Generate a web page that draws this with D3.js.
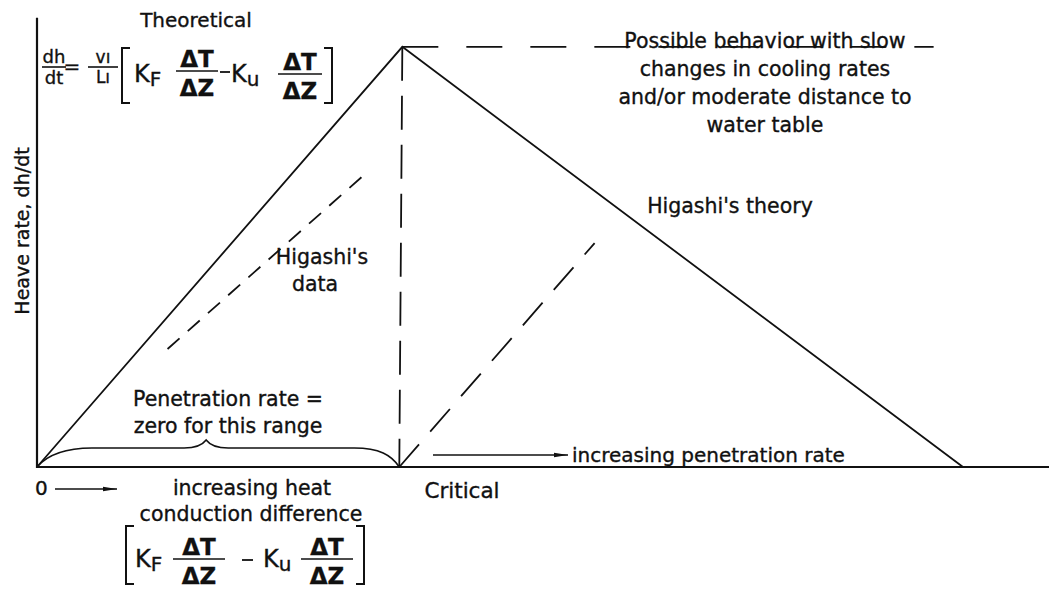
<!DOCTYPE html>
<html>
<head>
<meta charset="utf-8">
<script src="https://cdn.jsdelivr.net/npm/d3@7"></script>
<style>
  body { margin: 0; background: #fff; }
  svg text { font-family: "DejaVu Sans", sans-serif; fill: #111; stroke: #111; stroke-width: 0.35px; }
</style>
</head>
<body>
<div id="container"></div>
<script>
/** CONSTANTS AND GLOBALS */
const width = 1049,
  height = 590,
  margin = { top: 20, bottom: 123, left: 37, right: 0 };

// schematic data, in percent of the axis range
const theoryX = [0, 36.1, 91.5];        // theoretical rise, peak, Higashi's theory fall
const theoryY = [0, 94, 0];
const criticalX = [36.1, 35.8];         // vertical dashed line at critical difference
const criticalY = [94, 0];
const slowX = [36.1, 88.6];             // possible behaviour, slow changes
const slowY = [94, 94];
const higashiDataX = [12.9, 32.1];
const higashiDataY = [26.4, 64.9];
const penetrationX = [35.8, 55.1];
const penetrationY = [0, 50.1];
const braceX = [0, 35.8];

const slowLabel = ["Possible behavior with slow", "changes in cooling rates",
  "and/or moderate distance to", "water table"];

let svg;

/** INITIALIZING FUNCTION */
function init() {
  svg = d3.select("#container")
    .append("svg")
    .attr("width", width)
    .attr("height", height);

  const x = d3.scaleLinear().domain([0, 100]).range([margin.left, width - margin.right]);
  const y = d3.scaleLinear().domain([0, 100]).range([height - margin.bottom, margin.top]);

  const line = d3.line().x(d => x(d[0])).y(d => y(d[1]));
  const pairs = (xs, ys) => xs.map((v, i) => [v, ys[i]]);

  svg.append("defs").append("marker")
    .attr("id", "arrow")
    .attr("viewBox", "0 0 14 6")
    .attr("refX", 14).attr("refY", 3)
    .attr("markerWidth", 14).attr("markerHeight", 6)
    .attr("markerUnits", "userSpaceOnUse")
    .attr("orient", "auto")
    .append("path")
    .attr("d", "M0,0.8 L14,3 L0,5.2 Z")
    .attr("fill", "#111");

  // axes
  svg.append("path")
    .attr("d", line([[0, 100.5], [0, 0], [100, 0]]))
    .attr("fill", "none")
    .attr("stroke", "#111")
    .attr("stroke-width", 2.2);

  // theoretical curve
  svg.append("path")
    .attr("d", line(pairs(theoryX, theoryY)))
    .attr("fill", "none")
    .attr("stroke", "#111")
    .attr("stroke-width", 1.8);

  // dashed lines
  const dashed = [
    { pts: pairs(criticalX, criticalY), dash: "34,15" },
    { pts: pairs(slowX, slowY), dash: "36,28" },
    { pts: pairs(higashiDataX, higashiDataY), dash: "16,11" },
    { pts: pairs(penetrationX, penetrationY), dash: "30,17" }
  ];
  svg.selectAll("path.dash")
    .data(dashed)
    .join("path")
    .attr("class", "dash")
    .attr("d", d => line(d.pts))
    .attr("fill", "none")
    .attr("stroke", "#111")
    .attr("stroke-width", 1.8)
    .attr("stroke-dasharray", d => d.dash);

  // brace under "zero for this range"
  const bx0 = x(braceX[0]), bx1 = x(braceX[1]), by = y(0), mid = (bx0 + bx1) / 2 - 12;
  const bp = d3.path();
  bp.moveTo(bx0, by);
  bp.bezierCurveTo(bx0 + 12, by - 14, bx0 + 30, by - 19, bx0 + 55, by - 19);
  bp.lineTo(mid - 22, by - 19);
  bp.bezierCurveTo(mid - 8, by - 19, mid - 3, by - 23, mid, by - 27);
  bp.bezierCurveTo(mid + 3, by - 23, mid + 8, by - 19, mid + 22, by - 19);
  bp.lineTo(bx1 - 45, by - 19);
  bp.bezierCurveTo(bx1 - 20, by - 19, bx1 - 8, by - 12, bx1, by);
  svg.append("path")
    .attr("d", bp.toString())
    .attr("fill", "none")
    .attr("stroke", "#111")
    .attr("stroke-width", 1.6);

  // arrows
  svg.append("line")
    .attr("x1", 55).attr("y1", 489).attr("x2", 117).attr("y2", 489)
    .attr("stroke", "#111").attr("stroke-width", 1.5)
    .attr("marker-end", "url(#arrow)");
  svg.append("line")
    .attr("x1", 433).attr("y1", 455).attr("x2", 568).attr("y2", 455)
    .attr("stroke", "#111").attr("stroke-width", 1.5)
    .attr("marker-end", "url(#arrow)");

  // text labels
  const label = (txt, lx, ly, anchor = "middle", size = 20.5) =>
    svg.append("text")
      .attr("x", lx).attr("y", ly)
      .attr("text-anchor", anchor)
      .attr("font-size", size)
      .text(txt);

  label("Theoretical", 196, 27, "middle", 20);
  slowLabel.forEach((t, i) => label(t, 765, 48 + i * 28));
  label("Higashi's theory", 730, 213);
  label("Higashi's", 322, 264);
  label("data", 315, 291);
  label("Penetration rate =", 228, 406);
  label("zero for this range", 228, 433);
  label("increasing penetration rate", 572, 462, "start", 20);
  label("0", 35, 495, "start", 20);
  label("increasing heat", 252, 495);
  label("conduction difference", 251, 521);
  label("Critical", 462, 498, "middle", 21.5);

  svg.append("text")
    .attr("transform", "translate(29,231) rotate(-90)")
    .attr("text-anchor", "middle")
    .attr("font-size", 19)
    .text("Heave rate, dh/dt");

  drawFormulaTop();
  drawFormulaBottom();
}

function frac(num, den, cx, barY, barW, size, delta) {
  const g = svg.append("g");
  g.append("line")
    .attr("x1", cx - barW / 2).attr("x2", cx + barW / 2)
    .attr("y1", barY).attr("y2", barY)
    .attr("stroke", "#111").attr("stroke-width", 1.6);
  g.append("text").attr("x", cx).attr("y", barY - 4)
    .attr("text-anchor", "middle").attr("font-size", size)
    .attr("font-weight", delta ? "bold" : null)
    .text(num);
  g.append("text").attr("x", cx).attr("y", barY + size + (delta ? 2 : -1))
    .attr("text-anchor", "middle").attr("font-size", size)
    .attr("font-weight", delta ? "bold" : null)
    .text(den);
}

function bracket(x0, y0, y1, left) {
  const w = left ? 8 : -8;
  svg.append("path")
    .attr("d", `M${x0 + w},${y0} L${x0},${y0} L${x0},${y1} L${x0 + w},${y1}`)
    .attr("fill", "none").attr("stroke", "#111").attr("stroke-width", 2);
}

function sub(base, s, bx, by, size) {
  const t = svg.append("text").attr("x", bx).attr("y", by).attr("font-size", size);
  t.append("tspan").text(base);
  t.append("tspan").attr("dy", 4).attr("font-size", size - 4).text(s);
}

function drawFormulaTop() {
  // dh/dt = v1/L1 [ KF dT/dZ - Ku dT/dZ ]
  frac("dh", "dt", 54, 67, 24, 18);
  svg.append("text").attr("x", 72).attr("y", 73).attr("text-anchor", "middle")
    .attr("font-size", 20).text("=");
  frac("v\u0131", "L\u0131", 103, 67, 30, 17);
  bracket(122, 48, 103, true);
  sub("K", "F", 134, 82, 24);
  frac("\u0394T", "\u0394Z", 197, 71, 42, 23, true);
  svg.append("line").attr("x1", 220).attr("x2", 230).attr("y1", 72).attr("y2", 72)
    .attr("stroke", "#111").attr("stroke-width", 1.8);
  sub("K", "u", 231, 82, 24);
  frac("\u0394T", "\u0394Z", 300, 74, 44, 23, true);
  bracket(332, 48, 103, false);
}

function drawFormulaBottom() {
  bracket(126, 526, 584, true);
  sub("K", "F", 135, 567, 24);
  frac("\u0394T", "\u0394Z", 199, 559, 52, 23, true);
  svg.append("line").attr("x1", 242).attr("x2", 253).attr("y1", 560).attr("y2", 560)
    .attr("stroke", "#111").attr("stroke-width", 1.8);
  sub("K", "u", 263, 567, 24);
  frac("\u0394T", "\u0394Z", 327, 559, 52, 23, true);
  bracket(364, 526, 584, false);
}

init();
</script>
</body>
</html>
